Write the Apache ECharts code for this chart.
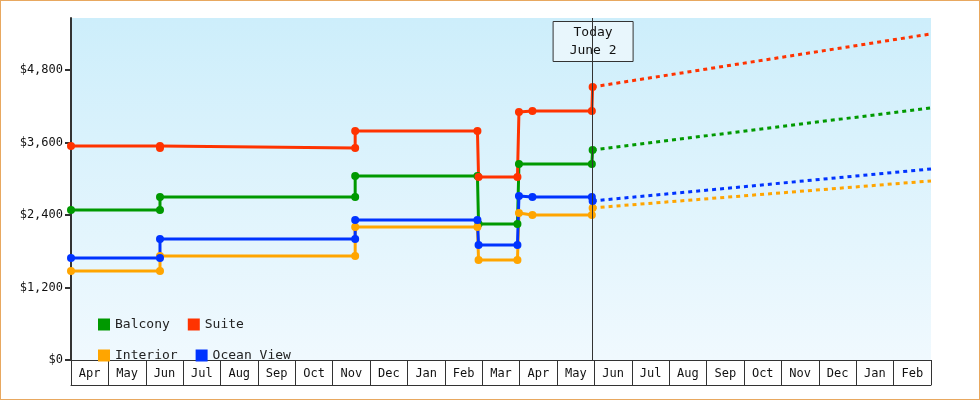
<!DOCTYPE html><html><head><meta charset="utf-8"><script src="https://cdn.jsdelivr.net/npm/echarts@6/dist/echarts.min.js"></script>
<style>html,body{margin:0;padding:0}#c{width:978px;height:398px;border:1px solid #e8a860}</style></head><body><div id="c"></div><script>
const months=['Apr','May','Jun','Jul','Aug','Sep','Oct','Nov','Dec','Jan','Feb','Mar','Apr','May','Jun','Jul','Aug','Sep','Oct','Nov','Dec','Jan','Feb'];
const yTicks=[0,1200,2400,3600,4800];
const todayX=13.95;
const endX=23;
// [monthIndex, price] step points
const suite=[[0,3543],[2.38,3543],[2.38,3510],[7.6,3510],[7.6,3791],[10.87,3791],[10.9,3030],[11.94,3030],[11.98,4106],[12.34,4122],[13.93,4122],[13.95,4520]];
const balcony=[[0,2483],[2.38,2483],[2.38,2699],[7.6,2699],[7.6,3046],[10.87,3046],[10.9,2252],[11.94,2252],[11.98,3245],[13.93,3245],[13.95,3477]];
const ocean=[[0,1689],[2.38,1689],[2.38,2003],[7.6,2003],[7.6,2318],[10.87,2318],[10.9,1904],[11.94,1904],[11.98,2715],[12.34,2699],[13.93,2699],[13.95,2632]];
const interior=[[0,1474],[2.38,1474],[2.38,1722],[7.6,1722],[7.6,2202],[10.87,2202],[10.9,1656],[11.94,1656],[11.98,2434],[12.34,2401],[13.93,2401],[13.95,2517]];
const proj={Suite:[[13.95,4520],[23,5397]],Balcony:[[13.95,3477],[23,4172]],'Ocean View':[[13.95,2632],[23,3162]],Interior:[[13.95,2517],[23,2964]]};
const colors={Balcony:'#009900',Suite:'#ff3300',Interior:'#ffa500','Ocean View':'#0033ff'};
const F='DejaVu Sans Mono';
const chart=echarts.init(document.getElementById('c'));
function solid(name,data){return {name,type:'line',data,symbol:'circle',symbolSize:8,color:colors[name],lineStyle:{width:3},animation:false,z:3};}
function dash(name){return {name,type:'line',data:proj[name],showSymbol:false,color:colors[name],lineStyle:{width:3,type:[4,4]},animation:false};}
const series=[solid('Balcony',balcony),solid('Suite',suite),solid('Interior',interior),solid('Ocean View',ocean),
 dash('Balcony'),dash('Suite'),dash('Interior'),dash('Ocean View')];
series[0].markLine={silent:true,symbol:'none',label:{show:false},lineStyle:{color:'#333',width:1,type:'solid'},data:[{xAxis:todayX}],animation:false};
chart.setOption({
 textStyle:{fontFamily:F},
 grid:{left:70,right:48,top:17,bottom:39,show:true,borderWidth:0,backgroundColor:new echarts.graphic.LinearGradient(0,0,0,1,[{offset:0,color:'#cdeefb'},{offset:1,color:'#f0f9fe'}])},
 legend:{left:92,top:312,width:200,itemGap:18,icon:'rect',itemWidth:12,itemHeight:12,textStyle:{fontFamily:F,fontSize:13,color:'#222'},
   data:['Balcony','Suite','Interior','Ocean View'],selectedMode:false},
 xAxis:[{type:'value',min:0,max:endX,show:false},
  {type:'category',data:months,position:'bottom',boundaryGap:true,axisLine:{lineStyle:{color:'#333',width:1}},
   axisTick:{show:true,interval:0,length:25,lineStyle:{color:'#333'}},axisLabel:{interval:0,margin:8,color:'#111',fontFamily:F,fontSize:12}},
  {type:'category',data:months,position:'bottom',offset:25,axisLine:{lineStyle:{color:'#333'}},axisTick:{show:false},axisLabel:{show:false}}],
 yAxis:{type:'value',min:0,max:5660,interval:1200,axisLine:{show:true,lineStyle:{color:'#333',width:2}},axisTick:{show:true,length:6,lineStyle:{color:'#333',width:2}},
   splitLine:{show:false},axisLabel:{showMaxLabel:false,color:'#111',fontFamily:F,fontSize:12,formatter:v=>'$'+v.toLocaleString('en-US')}},
 series
});
const p=chart.convertToPixel({xAxisIndex:0,yAxisIndex:0},[todayX,0]);
chart.setOption({graphic:[{type:'group',left:p[0]-40,top:20,children:[
 {type:'rect',shape:{x:0,y:0,width:80,height:40},style:{fill:'#e8f6fc',stroke:'#333',lineWidth:1}},
 {type:'text',style:{x:40,y:20,text:'Today\nJune 2',align:'center',verticalAlign:'middle',font:'13px "DejaVu Sans Mono"',fill:'#111',lineHeight:18}}]}]});
</script></body></html>
